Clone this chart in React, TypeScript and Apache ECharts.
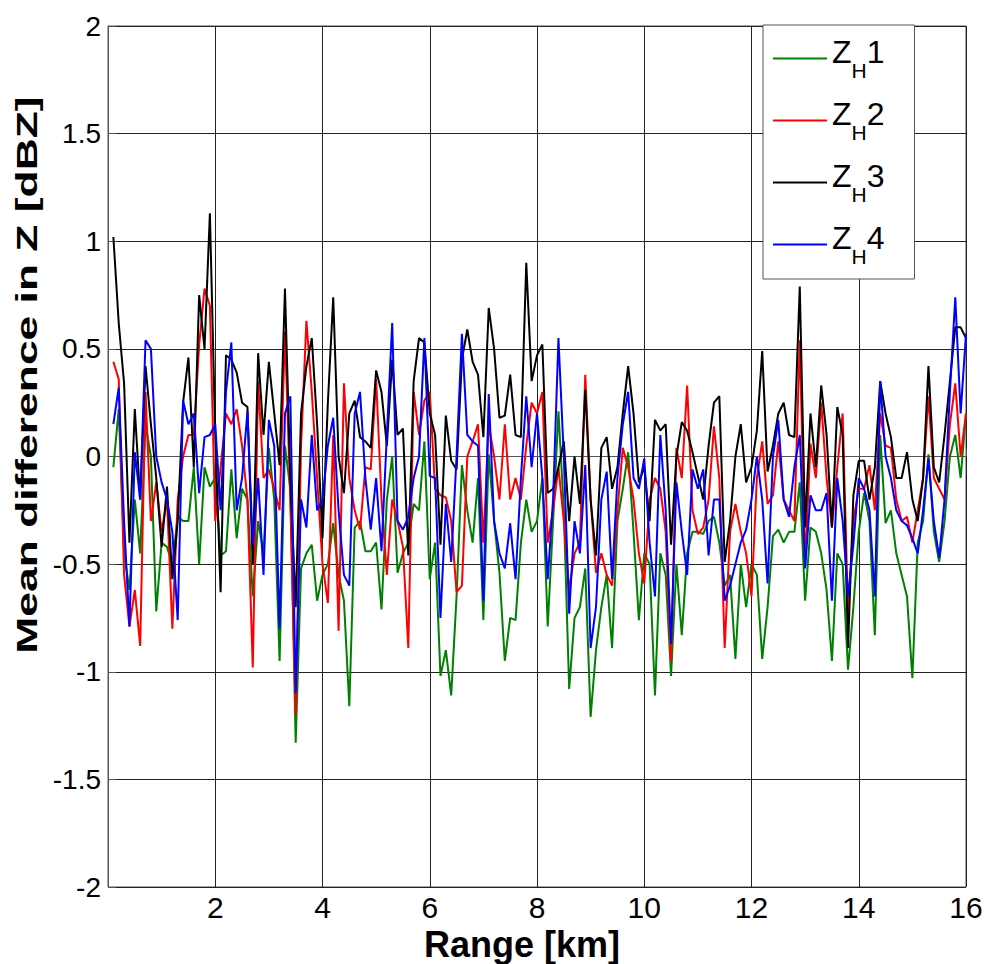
import { useEffect, useRef } from "react";
import * as echarts from "echarts";

// Range gates [km]
const RANGE_KM = [
  0.1, 0.2, 0.3, 0.4, 0.5, 0.6, 0.7, 0.8, 0.9, 1.0,
  1.1, 1.2, 1.3, 1.4, 1.5, 1.6, 1.7, 1.8, 1.9, 2.0,
  2.1, 2.2, 2.3, 2.4, 2.5, 2.6, 2.7, 2.8, 2.9, 3.0,
  3.1, 3.2, 3.3, 3.4, 3.5, 3.6, 3.7, 3.8, 3.9, 4.0,
  4.1, 4.2, 4.3, 4.4, 4.5, 4.6, 4.7, 4.8, 4.9, 5.0,
  5.1, 5.2, 5.3, 5.4, 5.5, 5.6, 5.7, 5.8, 5.9, 6.0,
  6.1, 6.2, 6.3, 6.4, 6.5, 6.6, 6.7, 6.8, 6.9, 7.0,
  7.1, 7.2, 7.3, 7.4, 7.5, 7.6, 7.7, 7.8, 7.9, 8.0,
  8.1, 8.2, 8.3, 8.4, 8.5, 8.6, 8.7, 8.8, 8.9, 9.0,
  9.1, 9.2, 9.3, 9.4, 9.5, 9.6, 9.7, 9.8, 9.9, 10.0,
  10.1, 10.2, 10.3, 10.4, 10.5, 10.6, 10.7, 10.8, 10.9, 11.0,
  11.1, 11.2, 11.3, 11.4, 11.5, 11.6, 11.7, 11.8, 11.9, 12.0,
  12.1, 12.2, 12.3, 12.4, 12.5, 12.6, 12.7, 12.8, 12.9, 13.0,
  13.1, 13.2, 13.3, 13.4, 13.5, 13.6, 13.7, 13.8, 13.9, 14.0,
  14.1, 14.2, 14.3, 14.4, 14.5, 14.6, 14.7, 14.8, 14.9, 15.0,
  15.1, 15.2, 15.3, 15.4, 15.5, 15.6, 15.7, 15.8, 15.9, 16.0,
];

// Mean difference in Z [dBZ]
const ZH1 = [
  -0.05, 0.22, -0.45, -0.62, -0.2, -0.45, 0.15, 0.0, -0.72, -0.4,
  -0.42, -0.5, -0.28, -0.3, -0.3, -0.05, -0.5, -0.05, -0.14, -0.1,
  -0.46, -0.44, -0.06, -0.38, -0.15, -0.2, -0.65, -0.3, -0.45, 0.04,
  -0.2, -0.95, 0.05, -0.15, -1.33, -0.52, -0.45, -0.41, -0.67, -0.55,
  -0.5, -0.31, -0.55, -0.67, -1.16, -0.33, -0.3, -0.44, -0.44, -0.4,
  -0.71, -0.2, 0.0, -0.54, -0.45, -0.4, -0.22, -0.25, 0.07, -0.57,
  -0.4, -1.02, -0.9, -1.11, -0.65, -0.04, -0.25, -0.4, -0.1, -0.76,
  0.01, -0.3, -0.54, -0.95, -0.75, -0.76, -0.4, -0.2, -0.35, -0.3,
  -0.1, -0.79, -0.3, 0.21, -0.25, -1.08, -0.75, -0.7, -0.52, -1.21,
  -0.9, -0.7, -0.55, -0.89, -0.3, -0.15, 0.02, -0.35, -0.76, -0.45,
  -0.5, -1.11, -0.45, -0.55, -1.02, -0.5, -0.83, -0.45, -0.35, -0.35,
  -0.36, -0.3, -0.28, -0.4, -0.6, -0.55, -0.94, -0.5, -0.7, -0.5,
  -0.55, -0.94, -0.7, -0.37, -0.34, -0.4, -0.35, -0.35, -0.12, -0.67,
  -0.33, -0.35, -0.45, -0.62, -0.95, -0.45, -0.5, -0.99, -0.7, -0.35,
  -0.17, -0.3, -0.83, 0.1, -0.31, -0.25, -0.45, -0.55, -0.65, -1.03,
  -0.4, -0.3, 0.01, -0.35, -0.49, -0.3, 0.0, 0.1, -0.1, 0.2,
];

const ZH2 = [
  0.44, 0.36, -0.55, -0.79, -0.62, -0.88, 0.3, -0.3, -0.12, -0.35,
  -0.2, -0.8, -0.2, 0.0, 0.1, 0.1, 0.52, 0.78, 0.7, -0.3,
  -0.05, 0.2, 0.15, 0.22, 0.05, -0.2, -0.98, 0.35, -0.1, -0.06,
  -0.15, -0.25, 0.58, -0.2, -1.2, 0.05, 0.63, 0.3, -0.1, -0.5,
  -0.68, 0.1, -0.81, 0.34, -0.1, -0.25, -0.34, -0.05, -0.06, 0.36,
  -0.2, -0.55, -0.2, -0.3, -0.42, -0.89, 0.3, 0.1, 0.26, 0.3,
  -0.15, -0.18, -0.19, -0.3, -0.63, -0.6, 0.0, 0.07, 0.15, -0.4,
  0.15, 0.0, -0.2, 0.15, -0.2, -0.1, -0.2, 0.05, 0.25, 0.2,
  0.3, -0.4, -0.25, -0.05, -0.3, -0.62, -0.45, -0.4, 0.38, -0.2,
  -0.54, -0.45, -0.55, -0.6, -0.25, 0.04, -0.05, -0.2, -0.45, -0.59,
  -0.2, -0.1, -0.15, -0.35, -0.95, 0.04, -0.1, 0.33, -0.25, -0.36,
  -0.33, -0.2, 0.14, -0.1, -0.89, -0.35, -0.22, -0.35, -0.45, -0.65,
  -0.1, 0.07, -0.22, -0.18, 0.07, -0.2, -0.25, -0.3, 0.54, -0.5,
  0.06, -0.1, 0.25, -0.1, -0.33, -0.05, 0.2, -0.73, -0.3, -0.15,
  -0.15, -0.04, -0.25, 0.2, 0.05, 0.04, -0.2, -0.3, -0.28, -0.4,
  -0.25, -0.1, 0.28, -0.1, -0.15, -0.2, 0.15, 0.34, 0.0, 0.2,
];

const ZH3 = [
  1.02, 0.62, 0.34, -0.4, 0.22, -0.2, 0.42, 0.15, -0.1, -0.42,
  -0.14, -0.57, -0.3, 0.25, 0.46, -0.05, 0.75, 0.5, 1.13, 0.1,
  -0.63, 0.47, 0.45, 0.39, 0.25, 0.23, -0.5, 0.48, 0.1, 0.44,
  0.2, -0.04, 0.78, -0.1, -0.7, 0.2, 0.42, 0.55, 0.15, -0.38,
  0.25, 0.74, 0.0, -0.17, 0.2, 0.26, 0.09, 0.07, 0.04, 0.4,
  0.3, 0.05, 0.45, 0.1, 0.13, -0.46, 0.35, 0.55, 0.53, 0.2,
  0.1, -0.41, 0.19, -0.02, -0.06, 0.45, 0.59, 0.44, 0.38, 0.09,
  0.69, 0.5, 0.18, 0.19, 0.38, 0.1, 0.09, 0.9, 0.35, 0.47,
  0.52, -0.17, -0.15, -0.05, 0.07, -0.3, 0.0, -0.22, 0.31, -0.2,
  -0.46, 0.04, 0.09, -0.15, -0.05, 0.2, 0.42, 0.2, -0.12, -0.05,
  -0.3, 0.17, 0.12, 0.15, -0.41, 0.0, 0.16, 0.12, 0.02, -0.09,
  -0.2, 0.05, 0.25, 0.28, -0.49, -0.3, 0.0, 0.15, -0.12, -0.05,
  0.12, 0.49, -0.07, 0.05, 0.2, 0.25, 0.1, 0.09, 0.79, -0.33,
  0.2, -0.05, 0.33, 0.1, -0.33, 0.23, 0.1, -0.89, -0.18, -0.02,
  -0.02, -0.2, -0.05, 0.35, 0.2, 0.09, -0.1, -0.1, 0.02, -0.2,
  -0.3, -0.1, 0.42, -0.05, -0.12, 0.1, 0.35, 0.6, 0.6, 0.55,
];

const ZH4 = [
  0.15, 0.32, -0.3, -0.79, 0.02, -0.2, 0.54, 0.5, 0.0, -0.12,
  -0.2, -0.35, -0.76, 0.26, 0.15, 0.2, -0.17, 0.09, 0.1, 0.15,
  -0.25, 0.3, 0.53, -0.25, -0.1, 0.21, -0.41, -0.1, -0.55, 0.17,
  0.05, -0.8, 0.2, 0.28, -1.1, -0.2, -0.33, 0.1, -0.25, -0.2,
  0.05, 0.18, -0.25, -0.55, -0.6, 0.2, 0.3, -0.1, -0.34, -0.1,
  -0.44, 0.1, 0.62, -0.3, -0.34, -0.28, -0.1, 0.0, 0.55, -0.09,
  -0.1, -0.75, -0.22, -0.49, 0.0, 0.57, 0.1, 0.07, 0.05, -0.67,
  0.29, -0.3, -0.45, -0.52, -0.31, -0.57, -0.1, 0.28, -0.05, 0.2,
  -0.1, -0.57, -0.2, 0.55, 0.0, -0.73, -0.3, -0.45, -0.04, -0.89,
  -0.7, -0.2, -0.07, -0.57, -0.1, 0.15, 0.3, -0.1, -0.15, -0.01,
  -0.4, -0.65, 0.1, -0.25, -0.87, -0.12, -0.35, -0.55, -0.06, -0.15,
  -0.06, -0.46, -0.2, -0.2, -0.67, -0.6, -0.5, -0.4, -0.34, -0.2,
  0.0, -0.2, -0.59, 0.0, 0.17, -0.2, -0.28, -0.05, 0.1, -0.52,
  -0.18, -0.25, -0.25, -0.17, -0.67, -0.1, -0.3, -0.65, -0.41, -0.1,
  -0.15, -0.25, -0.65, 0.35, 0.0, -0.1, -0.25, -0.3, -0.32, -0.38,
  -0.45, -0.25, -0.01, -0.3, -0.47, -0.2, 0.3, 0.74, 0.2, 0.57,
];

const SERIES_NAMES = ["ZH1", "ZH2", "ZH3", "ZH4"];
const SERIES_VALUES = [ZH1, ZH2, ZH3, ZH4];
const SERIES_COLORS = ["#008000", "#ff0000", "#000000", "#0000ff"];

const X_LABEL = "Range [km]";
const Y_LABEL = "Mean difference in Z [dBZ]";

const FONT = "'Liberation Sans', Arial, Helvetica, sans-serif";

export default function App() {
  const ref = useRef<HTMLDivElement>(null);

  useEffect(() => {
    if (!ref.current) return;
    const chart = echarts.init(ref.current, null, { renderer: "svg" });

    const series = SERIES_NAMES.map((name, k) => ({
      name,
      type: "line",
      data: RANGE_KM.map((x, i) => [x, SERIES_VALUES[k][i]]),
      symbol: "none",
      showSymbol: false,
      color: SERIES_COLORS[k],
      lineStyle: { color: SERIES_COLORS[k], width: 2 },
      emphasis: { disabled: true },
      silent: true,
    }));

    chart.setOption({
      animation: false,
      backgroundColor: "#ffffff",
      textStyle: { fontFamily: FONT },
      grid: {
        left: 108,
        right: 23,
        top: 26,
        bottom: 77,
        show: true,
        borderColor: "#555555",
        borderWidth: 1,
        containLabel: false,
        outerBoundsMode: "none",
      },
      legend: {
        orient: "vertical",
        left: 763,
        top: 25,
        padding: [11, 30, 12, 10],
        icon: "rect",
        itemWidth: 54,
        itemHeight: 2,
        itemGap: 17,
        backgroundColor: "#ffffff",
        borderColor: "#555555",
        borderWidth: 1,
        selectedMode: false,
        data: SERIES_NAMES,
        formatter: (name: string) => `{z|Z}{h|H}{z|${name.slice(2)}}`,
        textStyle: {
          fontFamily: FONT,
          color: "#000",
          rich: {
            z: { fontSize: 32, fontFamily: FONT, color: "#000", verticalAlign: "top" },
            h: { fontSize: 21, fontFamily: FONT, color: "#000", verticalAlign: "top", padding: [24, 0, 0, 0] },
          },
        },
      },
      xAxis: {
        type: "value",
        min: 0,
        max: 16,
        interval: 2,
        name: X_LABEL,
        nameLocation: "middle",
        nameGap: 31,
        nameTextStyle: {
          fontSize: 36,
          fontWeight: "bold",
          fontFamily: FONT,
          color: "#000",
          padding: [0, 30, 0, 0],
        },
        axisLine: { show: true, lineStyle: { color: "#555555", width: 1 } },
        axisTick: { show: true, inside: true, length: 8, lineStyle: { color: "#555555" } },
        axisLabel: {
          fontSize: 30,
          fontFamily: FONT,
          color: "#000",
          margin: 5,
          formatter: (v: number) => (v === 0 ? "" : String(v)),
        },
        splitLine: { show: true, lineStyle: { color: "#222222", width: 1 } },
      },
      yAxis: {
        type: "value",
        min: -2,
        max: 2,
        interval: 0.5,
        axisLine: { show: true, lineStyle: { color: "#555555", width: 1 } },
        axisTick: { show: true, inside: true, length: 8, lineStyle: { color: "#555555" } },
        axisLabel: {
          fontSize: 28,
          fontFamily: FONT,
          color: "#000",
          margin: 7,
        },
        splitLine: { show: true, lineStyle: { color: "#222222", width: 1 } },
      },
      graphic: [
        {
          type: "text",
          x: 27,
          y: 375,
          rotation: Math.PI / 2,
          scaleX: 1.48,
          silent: true,
          style: {
            text: Y_LABEL,
            fontSize: 30,
            fontWeight: "bold",
            fontFamily: FONT,
            fill: "#000",
            align: "center",
            verticalAlign: "middle",
            textAlign: "center",
            textVerticalAlign: "middle",
          },
        },
      ],
      series,
    });

    return () => chart.dispose();
  }, []);

  return (
    <div
      ref={ref}
      style={{ position: "absolute", left: 0, top: 0, width: 989, height: 964, background: "#fff" }}
    />
  );
}
